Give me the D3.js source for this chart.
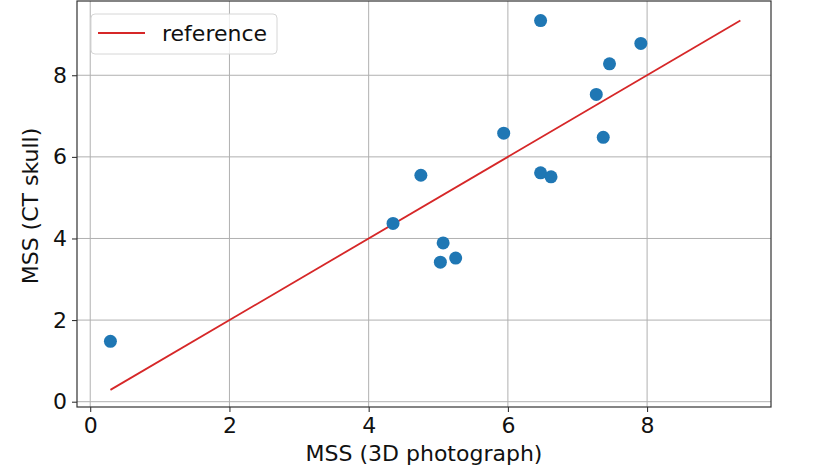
<!DOCTYPE html>
<html>
<head>
<meta charset="utf-8">
<script src="https://cdn.jsdelivr.net/npm/d3@7/dist/d3.min.js"></script>
<style>
  body { margin: 0; background: #fff; }
  svg { display: block; font-family: "DejaVu Sans", sans-serif; }
</style>
</head>
<body>
<svg class="chart" width="833" height="466"></svg>
<script>
// MSS measured on 3D photographs vs CT skulls
const photoMSS = [0.29, 4.35, 4.75, 5.07, 5.03, 5.25, 5.94, 6.47, 6.47, 6.62, 7.27, 7.37, 7.46, 7.91];
const skullMSS = [1.48, 4.37, 5.55, 3.89, 3.42, 3.52, 6.58, 9.34, 5.61, 5.51, 7.53, 6.48, 8.28, 8.78];
const refLine = [0.29, 9.34];
const xTicks = [0, 2, 4, 6, 8];
const yTicks = [0, 2, 4, 6, 8];

const margin = { top: 1, right: 62, bottom: 59, left: 77 };
const width = 833 - margin.left - margin.right;
const height = 466 - margin.top - margin.bottom;

const svg = d3.select(".chart");
const chart = svg.append("g")
  .attr("transform", `translate(${margin.left}, ${margin.top})`);

const xScale = d3.scaleLinear().domain([-0.19, 9.78]).range([0, width]);
const yScale = d3.scaleLinear().domain([-0.13, 9.82]).range([height, 0]);

// grid
chart.append("g")
  .selectAll("line")
  .data(xTicks)
  .enter()
  .append("line")
  .attr("x1", d => xScale(d)).attr("x2", d => xScale(d))
  .attr("y1", 0).attr("y2", height)
  .attr("stroke", "#b0b0b0").attr("stroke-width", 1);

chart.append("g")
  .selectAll("line")
  .data(yTicks)
  .enter()
  .append("line")
  .attr("y1", d => yScale(d)).attr("y2", d => yScale(d))
  .attr("x1", 0).attr("x2", width)
  .attr("stroke", "#b0b0b0").attr("stroke-width", 1);

// axes
const xAxis = chart.append("g")
  .attr("transform", `translate(0, ${height})`)
  .call(d3.axisBottom(xScale).tickValues(xTicks).tickSize(5).tickPadding(5).tickSizeOuter(0));
const yAxis = chart.append("g")
  .call(d3.axisLeft(yScale).tickValues(yTicks).tickSize(5).tickPadding(5).tickSizeOuter(0));

[xAxis, yAxis].forEach(a => {
  a.select(".domain").remove();
  a.selectAll("line").attr("stroke", "#222");
  a.selectAll("text")
    .attr("fill", "#111")
    .style("font-family", "DejaVu Sans")
    .style("font-size", "22px");
});

// frame
chart.append("rect")
  .attr("x", 0).attr("y", 0)
  .attr("width", width).attr("height", height)
  .attr("fill", "none")
  .attr("stroke", "#333").attr("stroke-width", 1.2);

// reference line
chart.append("line")
  .attr("x1", xScale(refLine[0])).attr("y1", yScale(refLine[0]))
  .attr("x2", xScale(refLine[1])).attr("y2", yScale(refLine[1]))
  .attr("stroke", "#d62728").attr("stroke-width", 1.8);

// points
chart.selectAll(".dot")
  .data(photoMSS)
  .enter()
  .append("circle")
  .attr("class", "dot")
  .attr("cx", d => xScale(d))
  .attr("cy", (d, i) => yScale(skullMSS[i]))
  .attr("r", 6.5)
  .attr("fill", "#1f77b4");

// legend
const legend = chart.append("g").attr("transform", "translate(14, 13)");
legend.append("rect")
  .attr("width", 186).attr("height", 40)
  .attr("rx", 4)
  .attr("fill", "#fff").attr("fill-opacity", 0.8)
  .attr("stroke", "#d6d6d6");
legend.append("line")
  .attr("x1", 7).attr("x2", 54).attr("y1", 19).attr("y2", 19)
  .attr("stroke", "#d62728").attr("stroke-width", 1.8);
legend.append("text")
  .attr("x", 71).attr("y", 27)
  .attr("fill", "#111")
  .style("font-size", "22px")
  .text("reference");

// axis labels
chart.append("text")
  .attr("x", width / 2)
  .attr("y", height + 54)
  .attr("text-anchor", "middle")
  .attr("fill", "#111")
  .style("font-size", "22px")
  .text("MSS (3D photograph)");

chart.append("text")
  .attr("transform", "rotate(-90)")
  .attr("x", -height / 2 - 2)
  .attr("y", -margin.left + 38)
  .attr("text-anchor", "middle")
  .attr("fill", "#111")
  .style("font-size", "22px")
  .text("MSS (CT skull)");
</script>
</body>
</html>
